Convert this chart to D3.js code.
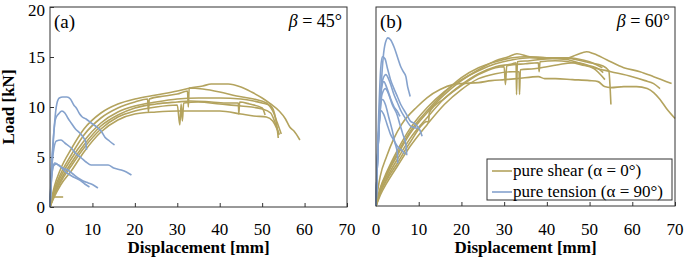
<!DOCTYPE html>
<html>
<head>
<meta charset="utf-8">
<script src="https://cdn.jsdelivr.net/npm/d3@7"></script>
<style>
  body { margin: 0; background: #fff; }
  svg { display: block; }
</style>
</head>
<body>
<svg id="chart" width="685" height="257"></svg>
<script>
'use strict';

// ---- data: [displacement mm, load kN] ----

const shearA = [
  [[0,0],[1,2],[2.5,3.8],[5,5.8],[8,7.8],[12,9.4],[16,10.3],[20,10.8],[25,11.2],[30,11.6],[33,11.9],[36,12.1],[38,12.3],[42,12.3],[45,12.0],[47.5,11.5],[50,10.9],[52,10.3],[54,9.6],[55.5,8.8],[56.5,8.0],[57.5,7.6],[58.9,6.7]],
  [[0,0],[1,1.7],[2.5,3.3],[5,5.2],[8,7.2],[12,8.9],[16,9.9],[20,10.5],[23,10.8],[23.2,9.5],[23.4,10.8],[27,11.1],[30,11.3],[32.4,11.6],[32.6,10.0],[32.8,11.9],[36,11.8],[40,11.5],[44,11.1],[48,10.8],[51,10.4],[52.5,9.6],[53.5,8.5],[54.5,7.3]],
  [[0,0],[1,1.5],[2.5,3.0],[5,4.8],[8,6.6],[12,8.4],[16,9.5],[20,10.1],[25,10.5],[30,10.8],[35,10.9],[40,10.9],[45,10.8],[48,10.6],[50,10.4],[52,10.1],[53,9.2],[53.5,8.0],[53.8,6.9]],
  [[0,0],[1,1.3],[2.5,2.7],[5,4.4],[8,6.2],[12,8.1],[16,9.2],[20,9.9],[25,10.3],[30,10.5],[33,10.6],[38,10.5],[42,10.4],[44.4,10.4],[44.5,9.3],[44.7,10.5],[47,10.3],[50,9.9],[50.7,9.2]],
  [[0,0],[1,1.2],[2.5,2.5],[5,4.1],[8,5.9],[12,7.8],[16,9.0],[20,9.6],[25,10.0],[30,10.2],[30.6,8.2],[30.9,10.3],[31.2,8.6],[31.5,10.4],[35,10.5],[40,10.3],[45,10.1],[50,9.8],[52,9.4],[53,8.5],[54,7.2]],
  [[0,0],[1,1.0],[2.5,2.2],[5,3.6],[8,5.5],[12,7.5],[16,8.7],[20,9.3],[25,9.5],[30,9.6],[35,9.6],[40,9.6],[45,9.3],[48,9.1],[51,9.0],[52.5,8.6],[53.5,7.8],[54,7.3]],
  [[0,1.0],[3.1,1.0]]
];

const tensionA = [
  [[0,0],[0.3,3],[0.7,6],[1.1,8.5],[1.6,10.3],[2.2,10.9],[3,11.0],[4,11.0],[4.8,10.8],[5.6,10.2],[6.2,9.9],[7,9.3],[7.6,9.0],[8.5,8.8],[9.7,8.4],[11.3,7.9],[12.2,7.5],[12.9,7.0],[14,6.6],[15.2,6.2]],
  [[0,0],[0.3,3.5],[0.8,7],[1.3,8.8],[2,9.3],[2.8,9.6],[3.5,9.4],[4.2,8.9],[5,8.4],[6,7.8],[7,7.4],[7.8,7.0],[8.4,6.5],[8.6,5.7]],
  [[0,0],[0.3,3],[0.8,5.5],[1.5,6.6],[2.6,6.7],[3.5,6.4],[5,5.9],[6.2,5.3],[7.4,4.9],[8.5,4.5],[9.7,4.2],[11.5,4.2],[13.7,4.2],[15,3.9],[16.8,3.7],[18,3.5],[19.2,3.2]],
  [[0,0],[0.3,2.5],[0.7,4.0],[1.1,4.4],[2,4.2],[3,3.9],[4.2,3.7],[5.4,3.3],[6.6,2.9],[7.8,2.6],[9,2.4],[10.2,2.2],[11.3,1.9]],
  [[0,0],[0.4,3],[0.8,4.1],[1.5,4.3],[2.5,4.0],[4,3.4],[5.5,3.0],[7,2.7],[8.2,2.3],[9.3,2.0]]
];

const shearB = [
  [[0,0],[0.5,1.8],[1,3.0],[2.5,5.0],[4.2,6.8],[6,8.2],[9.7,10.0],[12,10.9],[15,11.7],[18,12.2],[20,12.3],[24,12.4],[27,12.6],[30,12.7],[33,12.8],[38,13.0],[39.5,12.8],[42,12.8],[46,12.7],[50,12.6],[52,12.5],[53.5,12.0],[55,11.9],[58,12.0],[61,12.0],[63.5,11.8],[65,11.4],[66.5,10.7],[68,9.8],[70,8.8]],
  [[0,0],[1,1.8],[2.5,3.4],[5,5.6],[8,7.8],[12,9.9],[16,11.5],[20,12.7],[24,13.6],[28,14.3],[32,14.7],[36,14.9],[40,14.8],[44,14.8],[47,15.2],[49.3,15.5],[51,15.3],[54,14.7],[58,13.9],[61.8,13.5],[65,13.0],[69.2,12.3]],
  [[0,0],[1,1.6],[2.5,3.1],[5,5.1],[8,7.3],[12,9.4],[16,11.2],[20,12.6],[24,13.7],[28,14.6],[31,15.0],[33,15.3],[36,15.0],[40,14.9],[45,14.7],[48,14.3],[51,13.9],[55,13.5],[60,13.0],[63,12.6],[65,12.3],[66.5,11.8]],
  [[0,0],[1,1.4],[2.5,2.8],[5,4.7],[8,6.8],[12,8.9],[16,10.8],[20,12.2],[24,13.3],[28,14.0],[32,14.3],[32.8,14.4],[32.9,11.2],[33.1,14.5],[36,14.6],[40,14.8],[44,14.9],[47,14.7],[50,14.4],[53,14.1],[54.5,13.6],[54.8,12.0],[55,10.2]],
  [[0,0],[1,1.3],[2.5,2.6],[5,4.3],[8,6.4],[12,8.5],[12.3,8.4],[12.5,9.4],[16,10.8],[20,12.1],[24,13.2],[28,13.9],[30,14.0],[30.3,12.2],[30.6,14.1],[35,14.3],[38,14.4],[38.2,13.5],[38.4,14.5],[42,14.6],[45,14.5],[48,14.2],[51,13.8],[53.6,12.7]],
  [[0,0],[1,1.1],[2.5,2.3],[5,4.0],[8,6.0],[12,8.2],[16,10.2],[20,11.7],[24,12.8],[28,13.3],[32,13.5],[33.5,13.5],[33.6,11.2],[33.8,13.7],[37,13.8],[40,14.0],[44,14.3],[47,14.4],[50,14.1],[52,13.8],[53.2,13.4]],
  [[0,0],[1,1.7],[2.5,3.2],[5,5.3],[8,7.5],[12,9.6],[16,11.4],[20,12.9],[24,13.9],[28,14.5],[32,14.9],[35,15.0],[40,14.9],[45,14.9],[47,14.8],[50,14.5],[53,13.9]]
];

const tensionB = [
  [[0,0],[0.3,4],[0.7,8],[1.2,12],[1.7,15],[2.2,16.4],[2.8,16.9],[3.4,16.7],[4.2,16.0],[5,15.0],[5.8,14.0],[6.4,13.5],[7,13.0],[7.4,12.0],[7.7,11.5],[8.0,11.0]],
  [[0,0],[0.3,5],[0.7,10],[1.1,13.8],[1.5,15.0],[2.1,14.8],[2.7,13.8],[3.4,12.7],[4.2,11.8],[5,11.0],[5.8,10.2],[6.6,9.6],[7.4,9.0],[8.1,8.5],[9,8.3],[9.7,8.0],[10.3,7.6],[10.8,7.0]],
  [[0,0],[0.3,4],[0.8,9],[1.4,12.4],[2.3,13.2],[3.2,12.5],[4.2,11.2],[5,10.4],[5.8,9.6],[6.6,9.0],[7.3,8.5],[8.2,8.0],[9.0,7.9],[9.7,7.8]],
  [[0,0],[0.3,4],[0.8,8.5],[1.4,11.2],[2.2,11.8],[3,11.2],[3.8,10.2],[5,9.1],[5.6,8.2],[6.3,7.2],[7.0,6.2],[7.2,5.1]],
  [[0,0],[0.3,4],[0.8,8.5],[1.5,10.7],[2.2,10.2],[3,8.9],[3.8,7.6],[4.4,6.4],[5,5.3],[5.1,4.3]],
  [[0,0],[0.3,4],[0.8,9],[1.3,11.8],[1.8,12.5],[2.6,11.8],[3.4,10.8],[4.2,10.0],[5,9.5],[5.6,9.0]],
  [[0,0],[0.3,4],[0.7,8],[1.1,9.6],[1.8,9.2],[2.6,8.2],[3.4,7.2],[4.2,6.6],[5,6.0],[6,5.6],[6.8,5.2]]
];

const xTicks = [0, 10, 20, 30, 40, 50, 60, 70];
const yTicks = [0, 5, 10, 15, 20];
const legendLabels = ['pure shear (\u03b1 = 0\u00b0)', 'pure tension (\u03b1 = 90\u00b0)'];

// ---- drawing ----

const colShear   = '#b3a35e',
      colTension = '#85a2cd',
      colAxis    = '#333',
      serif      = '"Liberation Serif", "Times New Roman", Times, serif';

const svg = d3.select('#chart').attr('font-family', serif);

const panels = [
  { id: 'a', left: 50,  right: 347, top: 7, bottom: 207, shear: shearA, tension: tensionA, beta: '45', yLabels: true },
  { id: 'b', left: 376, right: 675, top: 7, bottom: 206, shear: shearB, tension: tensionB, beta: '60', yLabels: false }
];

panels.forEach((p) => {
  const x = d3.scaleLinear().domain([0, 70]).range([p.left, p.right]),
        y = d3.scaleLinear().domain([0, 20]).range([p.bottom, p.top]);

  const g = svg.append('g').attr('class', 'panel-' + p.id);

  // inner ticks, labels drawn separately
  const xAxis = d3.axisTop(x).tickValues(xTicks).tickSize(4).tickFormat('');
  g.append('g')
      .attr('transform', `translate(0,${p.bottom})`)
      .call(xAxis)
      .call((s) => s.select('.domain').remove())
      .selectAll('line').attr('stroke', colAxis);

  if (p.yLabels) {
    const yAxis = d3.axisRight(y).tickValues(yTicks).tickSize(4).tickFormat('');
    g.append('g')
        .attr('transform', `translate(${p.left},0)`)
        .call(yAxis)
        .call((s) => s.select('.domain').remove())
        .selectAll('line').attr('stroke', colAxis);

    // top label sits right at the edge, keep it inside the picture
    g.selectAll('.ylab')
      .data(yTicks)
      .enter().append('text')
        .attr('class', 'ylab')
        .attr('x', p.left - 5)
        .attr('y', (d) => Math.max(y(d), p.top + 3))
        .attr('dy', '0.35em')
        .attr('text-anchor', 'end')
        .style('font-size', '17px')
        .text((d) => d);
  }

  g.selectAll('.xlab')
    .data(xTicks)
    .enter().append('text')
      .attr('class', 'xlab')
      .attr('x', (d) => x(d))
      .attr('y', 235)
      .attr('text-anchor', 'middle')
      .style('font-size', '17px')
      .text((d) => d);

  g.append('text')
    .attr('x', (p.left + p.right) / 2)
    .attr('y', 253)
    .attr('text-anchor', 'middle')
    .style('font-size', '17px')
    .style('font-weight', 'bold')
    .text('Displacement [mm]');

  // curves
  const line = d3.line()
    .x((d) => x(d[0]))
    .y((d) => y(d[1]))
    .curve(d3.curveMonotoneX);

  g.append('g').selectAll('path')
    .data(p.shear)
    .enter().append('path')
      .attr('d', line)
      .attr('fill', 'none')
      .attr('stroke', colShear)
      .attr('stroke-width', 1.6)
      .attr('stroke-linejoin', 'round');

  g.append('g').selectAll('path')
    .data(p.tension)
    .enter().append('path')
      .attr('d', line)
      .attr('fill', 'none')
      .attr('stroke', colTension)
      .attr('stroke-width', 1.6)
      .attr('stroke-linejoin', 'round');

  // frame
  g.append('rect')
    .attr('x', p.left).attr('y', p.top)
    .attr('width', p.right - p.left).attr('height', p.bottom - p.top)
    .attr('fill', 'none')
    .attr('stroke', colAxis)
    .attr('stroke-width', 1);

  // panel tag and beta
  g.append('text')
    .attr('x', p.left + 4)
    .attr('y', 28)
    .style('font-size', '19px')
    .text('(' + p.id + ')');

  const bt = g.append('text')
    .attr('x', p.right - 5)
    .attr('y', 27)
    .attr('text-anchor', 'end')
    .style('font-size', '18px');
  bt.append('tspan').style('font-style', 'italic').text('\u03b2');
  bt.append('tspan').text(' = ' + p.beta + '\u00b0');
});

// y title
svg.append('text')
  .attr('transform', 'translate(14,107) rotate(-90)')
  .attr('text-anchor', 'middle')
  .style('font-size', '17px')
  .style('font-weight', 'bold')
  .text('Load [kN]');

// legend in panel (b)
const leg = svg.append('g').attr('transform', 'translate(487,159)');
leg.append('rect')
  .attr('width', 185).attr('height', 41)
  .attr('fill', '#fff')
  .attr('stroke', colAxis)
  .attr('stroke-width', 1);
leg.selectAll('line')
  .data(legendLabels)
  .enter().append('line')
    .attr('x1', 5).attr('x2', 25)
    .attr('y1', (d, i) => 12 + i * 21).attr('y2', (d, i) => 12 + i * 21)
    .attr('stroke', (d, i) => i === 0 ? colShear : colTension)
    .attr('stroke-width', 1.6);
leg.selectAll('text')
  .data(legendLabels)
  .enter().append('text')
    .attr('x', 26)
    .attr('y', (d, i) => 12 + i * 21)
    .attr('dy', '0.32em')
    .style('font-size', '17px')
    .text((d) => d);
</script>
</body>
</html>
